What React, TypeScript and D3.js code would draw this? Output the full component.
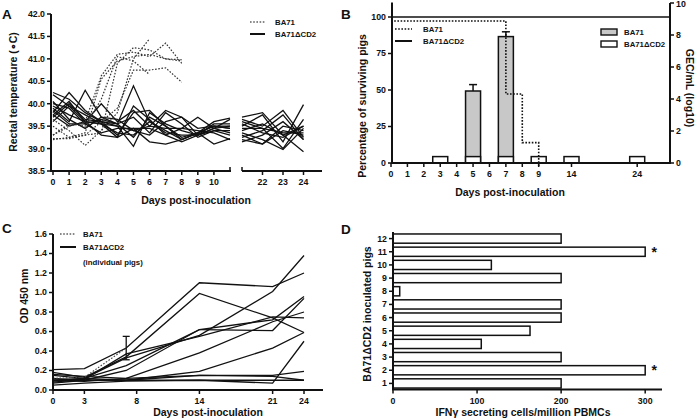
import React from 'react';
import * as d3 from 'd3';

const W = 696;
const H = 420;
const FONT = '"Liberation Sans", Arial, sans-serif';
const INK = '#111';

// ---- Panel A: rectal temperature ----
const daysEarly = [0, 1, 2, 3, 4, 5, 6, 7, 8, 9, 10, 11];
const daysLate = [21, 22, 23, 24];
const tempTicksA = [38.5, 39.0, 39.5, 40.0, 40.5, 41.0, 41.5, 42.0];
const dayTicksA1 = [0, 1, 2, 3, 4, 5, 6, 7, 8, 9, 10];
const dayTicksA2 = [22, 23, 24];
// BA71 pigs, from day 0 (two died after day 6)
const ba71Temp = [
  [39.3, 39.5, 39.6, 40.62, 41.1, 41.15, 41.05, 41.35, 40.9],
  [39.2, 39.25, 39.3, 39.35, 40.9, 41.25, 41.2, 41.0, 40.98],
  [39.65, 39.4, 39.07, 39.4, 39.8, 41.0, 41.45],
  [39.3, 39.55, 39.5, 40.1, 41.05, 40.95, 40.65],
  [39.22, 39.22, 39.3, 39.6, 39.9, 40.75, 40.75, 40.8, 40.48],
  [39.5, 39.25, 39.35, 40.55, 40.95, 41.05, 41.1, 41.0, 40.95],
];
const cd2TempEarly = [
  [40.2, 39.95, 39.6, 39.55, 39.35, 39.3, 39.6, 39.4, 39.2, 39.35, 39.5, 39.45],
  [39.8, 40.25, 39.85, 39.6, 39.5, 39.05, 39.8, 39.55, 39.4, 39.3, 39.45, 39.5],
  [39.9, 39.6, 40.3, 39.7, 39.55, 40.4, 39.6, 39.35, 39.3, 39.3, 39.55, 39.55],
  [40.25, 40.1, 39.8, 39.6, 39.3, 39.8, 39.85, 39.5, 39.25, 39.35, 39.5, 39.45],
  [39.75, 40.05, 39.6, 40.0, 39.6, 39.85, 39.5, 39.85, 39.7, 39.3, 39.45, 39.65],
  [39.6, 39.95, 39.75, 39.55, 39.25, 39.45, 39.15, 39.1, 39.2, 39.35, 39.6, 39.68],
  [40.0, 39.9, 39.55, 39.35, 39.45, 39.45, 39.45, 39.3, 39.45, 39.7, 39.45, 39.35],
  [39.7, 40.0, 39.65, 39.6, 39.55, 39.25, 39.7, 39.5, 39.2, 39.35, 39.1, 39.22],
  [39.85, 39.55, 39.55, 39.65, 39.55, 39.7, 39.35, 39.8, 39.55, 39.25, 39.4, 39.4],
  [39.95, 39.75, 39.6, 39.3, 39.25, 39.95, 39.65, 39.3, 39.15, 39.3, 39.4, 39.3],
  [40.05, 39.65, 39.45, 39.7, 39.65, 39.4, 39.3, 39.6, 39.7, 39.45, 39.5, 39.5],
  [39.75, 39.5, 39.6, 39.55, 39.5, 39.4, 39.5, 39.45, 39.45, 39.4, 39.35, 39.2],
];
const cd2TempLate = [
  [39.7, 39.8, 39.3, 39.5],
  [39.65, 39.5, 39.85, 39.25],
  [39.5, 39.75, 39.15, 39.98],
  [39.45, 39.45, 39.0, 39.65],
  [39.3, 39.1, 39.5, 39.4],
  [39.25, 39.4, 39.75, 39.2],
  [39.55, 39.35, 39.25, 39.5],
  [39.2, 39.1, 39.4, 39.3],
  [39.4, 39.55, 39.3, 38.93],
  [39.15, 39.3, 39.6, 39.2],
  [39.35, 39.2, 38.98, 39.45],
  [39.6, 39.45, 39.35, 39.35],
];

// ---- Panel B: survival and viraemia ----
const dayTicksB = [0, 1, 2, 3, 4, 5, 6, 7, 8, 9, 14, 24];
const survivalDays = [0, 1, 2, 3, 4, 5, 6, 7, 8, 9];
const survivalBA71 = [100, 100, 100, 100, 100, 100, 100, 50, 16.7, 0];
const survivalCD2 = 100;
const pctTicks = [0, 25, 50, 75, 100];
const gecTicks = [0, 2, 4, 6, 8, 10];
const gecDaysBA71 = [5, 7];
const gecBA71 = [4.5, 7.9];
const gecBA71Err = [0.4, 0.3];
const gecDaysCD2 = [3, 5, 7, 9, 14, 24];
const gecCD2 = [0.4, 0.4, 0.4, 0.4, 0.4, 0.4];

// ---- Panel C: antibodies ----
const odDays = [0, 3, 7, 14, 21, 24];
const dayTicksC = [0, 3, 8, 14, 21, 24];
const odTicks = [0, 0.2, 0.4, 0.6, 0.8, 1.0, 1.2, 1.4, 1.6];
const odBA71 = [0.12, 0.13, 0.43];
const odBA71ErrDay7 = 0.12;
const odCD2 = [
  [0.21, 0.22, 0.43, 1.10, 1.06, 1.20],
  [0.18, 0.13, 0.34, 0.99, 0.74, 0.59],
  [0.10, 0.12, 0.33, 0.56, 1.01, 1.38],
  [0.15, 0.12, 0.25, 0.62, 0.72, 0.96],
  [0.12, 0.10, 0.20, 0.62, 0.61, 0.94],
  [0.08, 0.11, 0.37, 0.55, 0.75, 0.74],
  [0.10, 0.09, 0.12, 0.38, 0.70, 0.80],
  [0.07, 0.10, 0.10, 0.19, 0.43, 0.59],
  [0.09, 0.12, 0.10, 0.15, 0.15, 0.19],
  [0.05, 0.07, 0.09, 0.10, 0.07, 0.50],
  [0.10, 0.10, 0.10, 0.10, 0.10, 0.10],
  [0.16, 0.14, 0.12, 0.15, 0.14, 0.10],
];

// ---- Panel D: IFNγ ELISpot ----
const pigIds = ['12', '11', '10', '9', '8', '7', '6', '5', '4', '3', '2', '1'];
const ifngValues = [200, 300, 117, 200, 8, 200, 200, 163, 105, 200, 300, 200];
const ifngSignificant = ['11', '2'];
const ifngTicks = [0, 100, 200, 300];

// scales
const xA1 = d3.scaleLinear().domain([0, 11]).range([53, 230]);
const xA2 = d3.scaleLinear().domain([21, 24]).range([242, 303.5]);
const yA = d3.scaleLinear().domain([38.5, 42]).range([171, 14]);

const xB = d3.scaleLinear().domain([0, 9, 14, 24, 29]).range([391, 538.7, 571.5, 637.2, 670]);
const yBL = d3.scaleLinear().domain([0, 110]).range([163, 2.4]);
const yBR = d3.scaleLinear().domain([0, 10]).range([163, 3]);

const xC = d3.scaleLinear().domain([0, 24]).range([53, 304]);
const yC = d3.scaleLinear().domain([0, 1.6]).range([390, 234]);

const yD = d3.scaleBand<string>().domain(pigIds).range([232, 390]).paddingInner(0.3).paddingOuter(0.15);
const xD = d3.scaleLinear().domain([0, 320]).range([393, 662]);

const DOT = '1.6,1.6';
const tickFont = { fontFamily: FONT, fontSize: 8.8, fontWeight: 700, fill: INK } as const;
const titleFont = { fontFamily: FONT, fontSize: 10.5, fontWeight: 700, fill: INK } as const;
const legendFont = { fontFamily: FONT, fontSize: 7.8, fontWeight: 700, fill: INK } as const;
const letterFont = { fontFamily: FONT, fontSize: 13.5, fontWeight: 700, fill: INK } as const;

function YTicks({ ticks, scale, x, fmt, side = 'left' }: any) {
  const dir = side === 'left' ? -1 : 1;
  return (
    <g>
      {ticks.map((t: number) => (
        <g key={t}>
          <line x1={x} x2={x + dir * 4} y1={scale(t)} y2={scale(t)} stroke={INK} strokeWidth={1.5} />
          <text x={x + dir * 6} y={Math.max(scale(t), 4)} dy="0.34em" textAnchor={side === 'left' ? 'end' : 'start'} {...tickFont}>
            {fmt(t)}
          </text>
        </g>
      ))}
    </g>
  );
}

function XTicks({ ticks, scale, y, labels = true }: any) {
  return (
    <g>
      {ticks.map((t: number) => (
        <g key={t}>
          <line x1={scale(t)} x2={scale(t)} y1={y} y2={y + 4} stroke={INK} strokeWidth={1.5} />
          {labels && (
            <text x={scale(t)} y={y + 14} textAnchor="middle" {...tickFont}>
              {t}
            </text>
          )}
        </g>
      ))}
    </g>
  );
}

function PanelA() {
  const lineEarly = d3.line<number>().x((_, i) => xA1(daysEarly[i])).y((d) => yA(d));
  const lineLate = d3.line<number>().x((_, i) => xA2(daysLate[i])).y((d) => yA(d));
  return (
    <g>
      <text x={2} y={19} {...letterFont}>A</text>
      {cd2TempEarly.map((s, i) => (
        <path key={'e' + i} d={lineEarly(s) || ''} fill="none" stroke={INK} strokeWidth={1.3} />
      ))}
      {cd2TempLate.map((s, i) => (
        <path key={'l' + i} d={lineLate(s) || ''} fill="none" stroke={INK} strokeWidth={1.3} />
      ))}
      {ba71Temp.map((s, i) => (
        <path key={'b' + i} d={lineEarly(s) || ''} fill="none" stroke="#333" strokeWidth={1.2} strokeDasharray={DOT} />
      ))}
      <line x1={51} x2={51} y1={yA(42)} y2={yA(38.5) + 1} stroke={INK} strokeWidth={2} />
      <YTicks ticks={tempTicksA} scale={yA} x={51} fmt={(t: number) => t.toFixed(1)} />
      <line x1={50} x2={231} y1={yA(38.5)} y2={yA(38.5)} stroke={INK} strokeWidth={2} />
      <line x1={242} x2={322} y1={yA(38.5)} y2={yA(38.5)} stroke={INK} strokeWidth={2} />
      <XTicks ticks={dayTicksA1} scale={xA1} y={yA(38.5)} />
      <XTicks ticks={[11]} scale={xA1} y={yA(38.5) - 4} labels={false} />
      <XTicks ticks={[21]} scale={xA2} y={yA(38.5) - 4} labels={false} />
      <XTicks ticks={dayTicksA2} scale={xA2} y={yA(38.5)} />
      <text x={196} y={204} textAnchor="middle" {...titleFont}>Days post-inoculation</text>
      <text transform="translate(17,92) rotate(-90)" textAnchor="middle" {...titleFont}>Rectal temperature (∘C)</text>
      <line x1={250} x2={265} y1={22} y2={22} stroke={INK} strokeWidth={1.2} strokeDasharray={DOT} />
      <text x={275} y={22} dy="0.34em" {...legendFont}>BA71</text>
      <line x1={250} x2={265} y1={34} y2={34} stroke={INK} strokeWidth={2} />
      <text x={275} y={34} dy="0.34em" {...legendFont}>BA71ΔCD2</text>
    </g>
  );
}

function PanelB() {
  const surv = d3
    .line<number>()
    .x((_, i) => xB(survivalDays[i]))
    .y((d) => yBL(d) + 4)
    .curve(d3.curveStepAfter);
  const bw = 15;
  const base = yBR(0);
  return (
    <g>
      <text x={341} y={19} {...letterFont}>B</text>
      {gecDaysBA71.map((d, i) => (
        <g key={'g' + d}>
          <line x1={xB(d)} x2={xB(d)} y1={yBR(gecBA71[i])} y2={yBR(gecBA71[i] + gecBA71Err[i])} stroke={INK} strokeWidth={1.5} />
          <line x1={xB(d) - 4} x2={xB(d) + 4} y1={yBR(gecBA71[i] + gecBA71Err[i])} y2={yBR(gecBA71[i] + gecBA71Err[i])} stroke={INK} strokeWidth={1.5} />
          <rect x={xB(d) - bw / 2} y={yBR(gecBA71[i])} width={bw} height={base - yBR(gecBA71[i])} fill="#c8c8c8" stroke={INK} strokeWidth={1.5} />
        </g>
      ))}
      {gecDaysCD2.map((d, i) => (
        <rect key={'w' + d} x={xB(d) - bw / 2} y={yBR(gecCD2[i])} width={bw} height={base - yBR(gecCD2[i])} fill="#fff" stroke={INK} strokeWidth={1.5} />
      ))}
      <path d={surv(survivalBA71) || ''} fill="none" stroke={INK} strokeWidth={1.6} strokeDasharray={DOT} />
      <line x1={xB(0)} x2={xB(29)} y1={yBL(survivalCD2)} y2={yBL(survivalCD2)} stroke={INK} strokeWidth={1.6} />
      <line x1={392} x2={392} y1={yBL(110)} y2={base + 1} stroke={INK} strokeWidth={2} />
      <line x1={670} x2={670} y1={yBR(10)} y2={base + 1} stroke={INK} strokeWidth={2} />
      <line x1={391} x2={670} y1={base} y2={base} stroke={INK} strokeWidth={2} />
      <YTicks ticks={pctTicks} scale={yBL} x={392} fmt={(t: number) => String(t)} />
      <YTicks ticks={gecTicks} scale={yBR} x={670} fmt={(t: number) => String(t)} side="right" />
      <XTicks ticks={dayTicksB} scale={xB} y={base} />
      <text x={510} y={196} textAnchor="middle" {...titleFont}>Days post-inoculation</text>
      <text transform="translate(366,106) rotate(-90)" textAnchor="middle" {...titleFont}>Percentage of surviving pigs</text>
      <text transform="translate(686,88) rotate(90)" textAnchor="middle" {...titleFont}>GEC/mL (log10)</text>
      <line x1={395} x2={412} y1={29} y2={29} stroke={INK} strokeWidth={1.3} strokeDasharray={DOT} />
      <text x={423} y={29} dy="0.34em" {...legendFont}>BA71</text>
      <line x1={395} x2={412} y1={41} y2={41} stroke={INK} strokeWidth={2} />
      <text x={423} y={41} dy="0.34em" {...legendFont}>BA71ΔCD2</text>
      <rect x={601} y={29} width={16} height={6} fill="#c8c8c8" stroke={INK} strokeWidth={1.4} />
      <text x={624} y={32} dy="0.34em" {...legendFont}>BA71</text>
      <rect x={601} y={41} width={16} height={6} fill="#fff" stroke={INK} strokeWidth={1.4} />
      <text x={624} y={44} dy="0.34em" {...legendFont}>BA71ΔCD2</text>
    </g>
  );
}

function PanelC() {
  const line = d3.line<number>().x((_, i) => xC(odDays[i])).y((d) => yC(d));
  const errTop = yC(odBA71[2] + odBA71ErrDay7);
  const errBot = yC(odBA71[2] - odBA71ErrDay7);
  return (
    <g>
      <text x={2} y={233} {...letterFont}>C</text>
      {odCD2.map((s, i) => (
        <path key={i} d={line(s) || ''} fill="none" stroke={INK} strokeWidth={1.3} />
      ))}
      <path d={line(odBA71) || ''} fill="none" stroke="#444" strokeWidth={1.1} strokeDasharray={DOT} />
      <line x1={xC(7)} x2={xC(7)} y1={errTop} y2={errBot} stroke={INK} strokeWidth={1.3} />
      <line x1={xC(7) - 3.5} x2={xC(7) + 3.5} y1={errTop} y2={errTop} stroke={INK} strokeWidth={1.3} />
      <line x1={xC(7) - 3.5} x2={xC(7) + 3.5} y1={errBot} y2={errBot} stroke={INK} strokeWidth={1.3} />
      <line x1={53} x2={53} y1={yC(1.6)} y2={yC(0) + 1} stroke={INK} strokeWidth={2} />
      <line x1={52} x2={323} y1={yC(0)} y2={yC(0)} stroke={INK} strokeWidth={2} />
      <YTicks ticks={odTicks} scale={yC} x={53} fmt={(t: number) => t.toFixed(1)} />
      <XTicks ticks={dayTicksC} scale={xC} y={yC(0)} />
      <text x={208} y={416} textAnchor="middle" {...titleFont}>Days post-inoculation</text>
      <text transform="translate(28,296) rotate(-90)" textAnchor="middle" {...titleFont}>OD 450 nm</text>
      <line x1={60} x2={76} y1={234} y2={234} stroke={INK} strokeWidth={1.2} strokeDasharray={DOT} />
      <text x={83} y={234} dy="0.34em" {...legendFont}>BA71</text>
      <line x1={60} x2={76} y1={247} y2={247} stroke={INK} strokeWidth={2} />
      <text x={83} y={247} dy="0.34em" {...legendFont}>BA71ΔCD2</text>
      <text x={83} y={262} dy="0.34em" {...legendFont}>(individual pigs)</text>
    </g>
  );
}

function PanelD() {
  const bh = yD.bandwidth();
  return (
    <g>
      <text x={341} y={234} {...letterFont}>D</text>
      {pigIds.map((p, i) => (
        <rect key={p} x={xD(0)} y={yD(p)!} width={xD(ifngValues[i]) - xD(0)} height={bh} fill="#fff" stroke={INK} strokeWidth={1.5} />
      ))}
      {ifngSignificant.map((p) => (
        <text key={p} x={xD(300) + 9} y={yD(p)! + bh / 2 + 5} textAnchor="middle" fontFamily={FONT} fontSize={14} fontWeight={700} fill={INK}>
          *
        </text>
      ))}
      <line x1={393} x2={393} y1={232} y2={390} stroke={INK} strokeWidth={2} />
      <line x1={392} x2={662} y1={389.5} y2={389.5} stroke={INK} strokeWidth={2} />
      {pigIds.map((p) => (
        <g key={'t' + p}>
          <line x1={393} x2={389} y1={yD(p)! + bh / 2} y2={yD(p)! + bh / 2} stroke={INK} strokeWidth={1.5} />
          <text x={387} y={yD(p)! + bh / 2} dy="0.34em" textAnchor="end" {...tickFont}>{p}</text>
        </g>
      ))}
      <XTicks ticks={ifngTicks} scale={xD} y={389.5} />
      <text x={523} y={416} textAnchor="middle" {...titleFont}>IFNγ secreting cells/million PBMCs</text>
      <text transform="translate(371,314) rotate(-90)" textAnchor="middle" {...titleFont}>BA71ΔCD2 inoculated pigs</text>
    </g>
  );
}

export default function App() {
  return (
    <div style={{ position: 'absolute', left: 0, top: 0, width: W, height: H, background: '#fff' }}>
      <svg width={W} height={H} xmlns="http://www.w3.org/2000/svg">
        <rect width={W} height={H} fill="#fff" />
        <PanelA />
        <PanelB />
        <PanelC />
        <PanelD />
      </svg>
    </div>
  );
}
